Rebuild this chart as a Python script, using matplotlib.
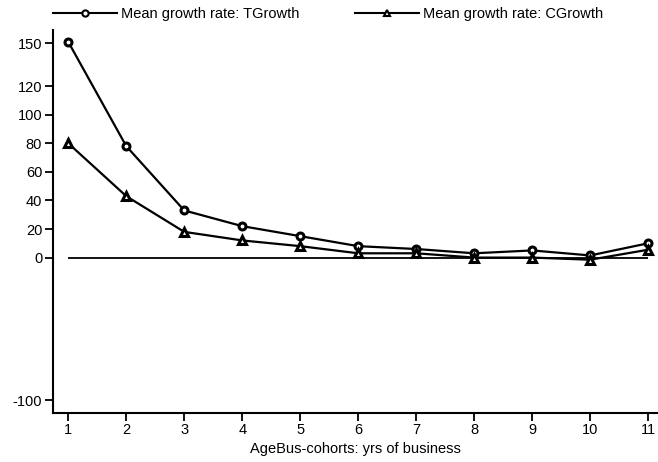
import matplotlib
matplotlib.use("Agg")
import matplotlib.pyplot as plt
from matplotlib.lines import Line2D

cohorts = [1, 2, 3, 4, 5, 6, 7, 8, 9, 10, 11]
tgrowth = [151, 78, 33, 22, 15, 8, 6, 3, 5, 1.5, 10]
cgrowth = [80, 43, 18, 12, 8, 3, 3, 0, 0, -1.5, 5.5]
yticks = [-100, 0, 20, 40, 60, 80, 100, 120, 150]
xlabel = "AgeBus-cohorts: yrs of business"
labels = ["Mean growth rate: TGrowth", "Mean growth rate: CGrowth"]

plt.rcParams['font.family'] = ['Liberation Sans', 'DejaVu Sans']
plt.rcParams['axes.unicode_minus'] = False
fs = 10.5

fig = plt.figure(figsize=(6.58, 4.62), dpi=100)
ax = fig.add_axes([53.3/658, 1 - 413.3/462, 1 - 53.3/658, (413.3 - 30)/462])

ax.hlines(0, cohorts[0], cohorts[-1], color='black', lw=1.3, zorder=1)
ax.plot(cohorts, tgrowth, color='black', lw=1.6, marker='o', ms=5,
        mfc='white', mec='black', mew=2.2, zorder=3)
ax.plot(cohorts, cgrowth, color='black', lw=1.6, marker='^', ms=6,
        mfc='white', mec='black', mew=2.2, zorder=3)

ax.set_xlim(0.742, 11.17)
ax.set_ylim(-109, 159.3)
ax.set_xticks(cohorts)
ax.set_yticks(yticks)
ax.tick_params(axis='both', direction='out', length=6, width=1.3,
               labelsize=fs, pad=2, color='black')
ax.tick_params(axis='x', pad=1)
for s in ['top', 'right']:
    ax.spines[s].set_visible(False)
for s in ['left', 'bottom']:
    ax.spines[s].set_linewidth(1.5)
ax.set_xlabel(xlabel, fontsize=fs, labelpad=3.5)

handles = [
    Line2D([], [], color='black', lw=1.5, marker='o', ms=4.5, mfc='white',
           mec='black', mew=1.5),
    Line2D([], [], color='black', lw=1.5, marker='^', ms=5, mfc='white',
           mec='black', mew=1.5),
]
fig.legend(handles, labels, loc='upper left', bbox_to_anchor=(53/658, 1 - 7/462),
           ncol=2, frameon=False, fontsize=fs, borderpad=0, borderaxespad=0,
           handlelength=64/14.6, handletextpad=4/14.6, columnspacing=56/14.6,
           markerscale=1)

fig.savefig("out.png", dpi=100)
